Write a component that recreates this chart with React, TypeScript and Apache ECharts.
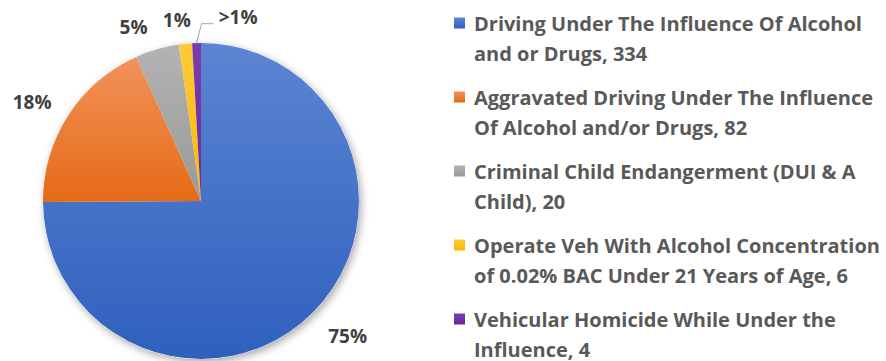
import React, { useEffect, useRef } from 'react';
import * as echarts from 'echarts';

const categories = [
  'Driving Under The Influence Of Alcohol and or Drugs',
  'Aggravated Driving Under The Influence Of Alcohol and/or Drugs',
  'Criminal Child Endangerment (DUI & A Child)',
  'Operate Veh With Alcohol Concentration of 0.02% BAC Under 21 Years of Age',
  'Vehicular Homicide While Under the Influence',
];
const counts = [334, 82, 20, 6, 4];
const percentLabels = ['75%', '18%', '5%', '1%', '>1%'];
const legendFirstLines = [
  'Driving Under The Influence Of Alcohol',
  'Aggravated Driving Under The Influence',
  'Criminal Child Endangerment (DUI & A',
  'Operate Veh With Alcohol Concentration',
  'Vehicular Homicide While Under the',
];
const legendSecondLines = [
  'and or Drugs, 334',
  'Of Alcohol and/or Drugs, 82',
  'Child), 20',
  'of 0.02% BAC Under 21 Years of Age, 6',
  'Influence, 4',
];
const colors = ['#4472C4', '#ED7D31', '#A5A5A5', '#FFC000', '#7030A0'];
const gradTop = ['#5C85D2', '#F2935C', '#B3B3B3', '#FFCA3A', '#7C3CB0'];
const gradBottom = ['#2F60BE', '#E56A15', '#999999', '#F5B800', '#662896'];

// label placement: radial distance (px) and angle nudge (deg)
const labelDist = [199, 196, 187, 183, 188];
const labelNudge = [-2.25, -2.2, -5.0, -1.95, 13];

const CX = 201;
const CY = 201;
const R = 158;

export default function App() {
  const ref = useRef<HTMLDivElement>(null);
  useEffect(() => {
    document.body.style.margin = '0';
    if (!ref.current) return;
    const chart = echarts.init(ref.current, null, { renderer: 'svg' });
    const total = counts.reduce((a, b) => a + b, 0);
    const mids: number[] = [];
    let acc = 0;
    counts.forEach((v) => {
      mids.push(((acc + v / 2) / total) * 360);
      acc += v;
    });
    const pt = (deg: number, r: number) => {
      const a = (deg * Math.PI) / 180;
      return [CX + r * Math.sin(a), CY - r * Math.cos(a)];
    };
    chart.setOption({
      animation: false,
      legend: {
        orient: 'vertical',
        left: 454,
        top: -22,
        height: 460,
        padding: 0,
        itemWidth: 11,
        itemHeight: 11,
        itemGap: -16,
        icon: 'rect',
        selectedMode: false,
        data: categories,
        formatter: (name: string) => {
          const i = categories.indexOf(name);
          return ' \n' + legendFirstLines[i] + '\n' + legendSecondLines[i];
        },
        textStyle: {
          fontFamily: 'Open Sans',
          fontWeight: 'bold',
          fontSize: 20,
          color: '#595959',
          lineHeight: 30,
          padding: [0, 0, 0, 4],
        },
      },
      series: [
        {
          type: 'pie',
          silent: true,
          center: [CX, CY],
          radius: [0, R],
          label: { show: false },
          labelLine: { show: false },
          itemStyle: {
            color: '#ffffff',
            shadowBlur: 8,
            shadowOffsetX: 2,
            shadowOffsetY: 3,
            shadowColor: 'rgba(0,0,0,0.35)',
          },
          data: [{ value: 1, name: '__shadow' }],
        },
        {
          type: 'pie',
          center: [CX, CY],
          radius: [0, R],
          startAngle: 90,
          clockwise: true,
          avoidLabelOverlap: false,
          label: {
            show: true,
            position: 'outside',
            formatter: (p: any) => percentLabels[p.dataIndex],
            fontFamily: 'Open Sans',
            fontWeight: 'bold',
            fontSize: 19,
            color: '#404040',
          },
          labelLine: { show: false },
          labelLayout: (params: any) => {
            const i = params.dataIndex;
            const [x, y] = pt(mids[i] + labelNudge[i], labelDist[i]);
            const res: any = { x, y, align: 'center', verticalAlign: 'middle' };
            if (i === 4) {
              const edge = pt(mids[i], R);
              const w = params.labelRect ? params.labelRect.width : 40;
              const endX = x - w / 2 - 5;
              res.labelLinePoints = [
                edge,
                [edge[0] + 5, y + 7],
                [endX, y + 7],
              ];
            }
            return res;
          },
          data: categories.map((name, i) => ({
            name,
            value: counts[i],
            itemStyle: {
              color: new echarts.graphic.LinearGradient(0, 0, 0, 1, [
                { offset: 0, color: gradTop[i] },
                { offset: 1, color: gradBottom[i] },
              ]),
            },
            labelLine:
              i === 4
                ? { show: true, lineStyle: { color: '#A6A6A6', width: 1 } }
                : { show: false },
          })),
        },
      ],
      color: colors,
    });
    return () => chart.dispose();
  }, []);
  return <div ref={ref} style={{ width: 886, height: 361 }} />;
}
